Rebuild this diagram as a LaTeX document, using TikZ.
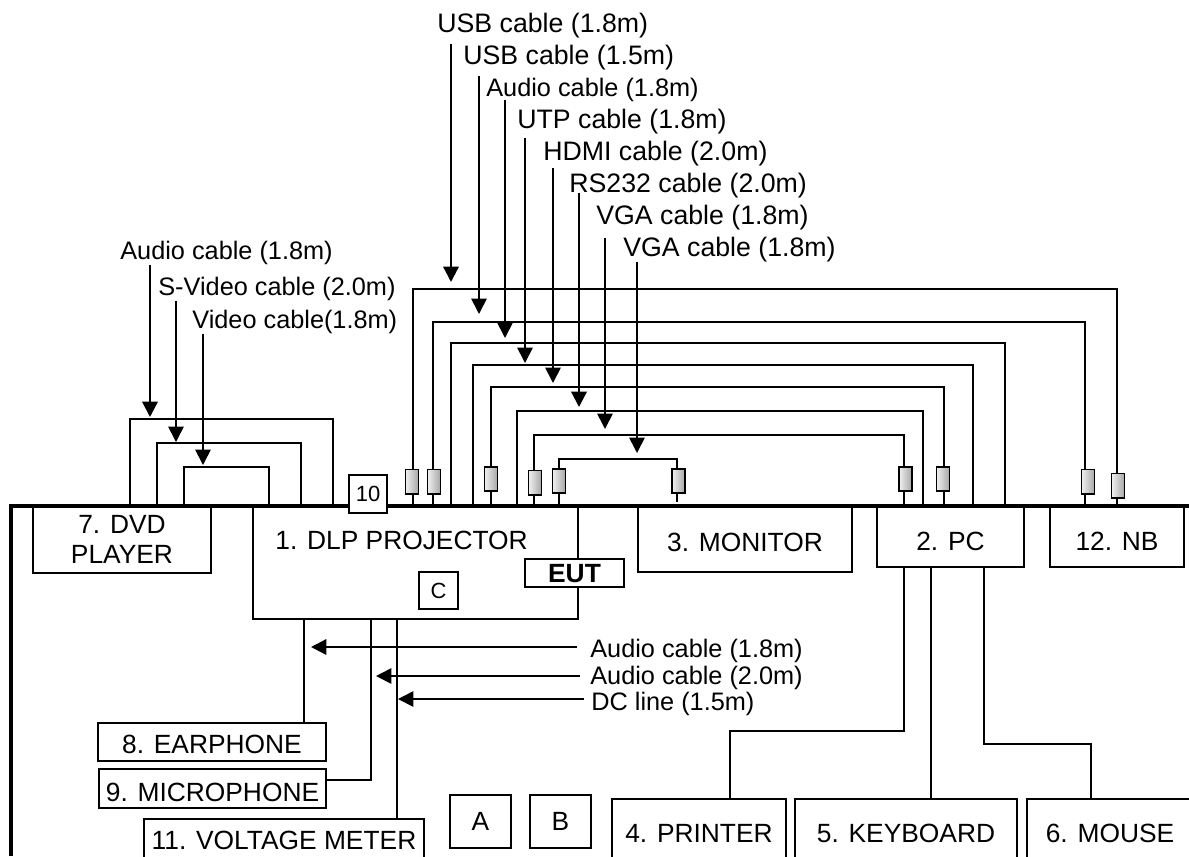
\documentclass[tikz,border=0pt]{standalone}
\usepackage{fontspec}
\setmainfont{Liberation Sans}
\usetikzlibrary{arrows.meta}
\tikzset{
  wire/.style={line width=0.95pt},
  wall/.style={line width=2.2pt},
  feed/.style={line width=0.95pt,-{Triangle[width=8.8pt,length=8.8pt]}},
  feedbold/.style={feed,line width=1.3pt},
  cablelabel/.style={anchor=base west,inner sep=0pt,font=\fontsize{14.4}{17}\selectfont},
  caplabel/.style={cablelabel,font=\fontsize{15.2}{17}\selectfont},
  devbox/.style={draw,fill=white,line width=0.95pt,inner sep=0pt,font=\fontsize{15}{17}\selectfont},
  capsbox/.style={devbox,text height=10.7pt,text depth=0pt},
  smallbox/.style={devbox,font=\fontsize{12.5}{14}\selectfont,minimum width=22pt},
  filter/.style={draw,line width=1pt,left color=gray!12,right color=gray!70,minimum width=7.4pt,minimum height=13.8pt,inner sep=0pt}
}
\begin{document}
\begin{tikzpicture}[x=0.02cm,y=-0.02cm]
  \useasboundingbox (0,0) rectangle (1189,856);
  \clip (0,0) rectangle (1189,856);
  % cables over the table
  \coordinate (usbAL) at (413,506);   \coordinate (usbAR) at (1117,506);
  \coordinate (usbBL) at (433,506);   \coordinate (usbBR) at (1085,506);
  \coordinate (audioL) at (451,506);  \coordinate (audioR) at (1005,506);
  \coordinate (utpL) at (473,506);    \coordinate (utpR) at (973,506);
  \coordinate (hdmiL) at (491,506);   \coordinate (hdmiR) at (944,506);
  \coordinate (rsL) at (517,506);     \coordinate (rsR) at (923,506);
  \coordinate (vgaAL) at (534,506);   \coordinate (vgaAR) at (904,506);
  \coordinate (vgaBL) at (559,506);   \coordinate (vgaBR) at (677,502);
  \draw[wire] (usbAL) -- ++(0,-217) -| (usbAR);
  \draw[wire] (usbBL) -- ++(0,-184) -| (usbBR);
  \draw[wire] (audioL) -- ++(0,-163) -| (audioR);
  \draw[wire,line width=1.1pt] (utpL) -- ++(0,-141) -| (utpR);
  \draw[wire] (hdmiL) -- ++(0,-119) -| (hdmiR);
  \draw[wire] (rsL) -- ++(0,-95) -| (rsR);
  \draw[wire] (vgaAL) -- ++(0,-71) -| (vgaAR);
  \draw[wire] (vgaBL) -- ++(0,-47) -| (vgaBR);
  \coordinate (dvdAL) at (130,506);   \coordinate (dvdAR) at (333,506);
  \coordinate (dvdBL) at (157,506);   \coordinate (dvdBR) at (301,506);
  \coordinate (dvdCL) at (184,506);   \coordinate (dvdCR) at (269,506);
  \draw[wire] (dvdAL) -- ++(0,-87) -| (dvdAR);
  \draw[wire] (dvdBL) -- ++(0,-63) -| (dvdBR);
  \draw[wire] (dvdCL) -- ++(0,-39) -| (dvdCR);
  % filters on the cables
  \node[filter] (filterA) at (412,481.5) {};
  \node[filter] (filterB) at (434,481.5) {};
  \node[filter] (filterC) at (491,479) {};
  \node[filter] (filterD) at (535,482.5) {};
  \node[filter] (filterE) at (559,481) {};
  \node[filter] (filterF) at (678.5,481) {};
  \node[filter] (filterG) at (905.5,479) {};
  \node[filter] (filterH) at (943,479) {};
  \node[filter] (filterI) at (1088,481.5) {};
  \node[filter] (filterJ) at (1118,485.5) {};
  % devices
  \node[devbox,minimum width=178*0.569pt,minimum height=67*0.569pt,align=center] (dvd) at (122,539.5) {7. DVD\\PLAYER};
  \node[devbox,minimum width=325*0.569pt,minimum height=113*0.569pt] (proj) at (415.5,562.5) {};
  \node[cablelabel,font=\fontsize{15}{17}\selectfont] (projText) at (275,549) {1. DLP PROJECTOR};
  \node[smallbox,minimum width=39*0.569pt,minimum height=37*0.569pt] (boxC) at (438.5,590.5) {C};
  \node[capsbox,minimum width=99*0.569pt,minimum height=28*0.569pt,font=\fontsize{15}{17}\selectfont\bfseries] (eut) at (574.5,573) {EUT};
  \node[capsbox,text height=14pt,minimum width=214*0.569pt,minimum height=66*0.569pt] (monitor) at (745,539) {3. MONITOR};
  \node[capsbox,text height=16.4pt,minimum width=147*0.569pt,minimum height=61*0.569pt] (pc) at (950.5,536.5) {2. PC};
  \node[capsbox,text height=16.4pt,minimum width=134*0.569pt,minimum height=61*0.569pt] (nb) at (1117,536.5) {12. NB};
  \node[capsbox,text height=13pt,minimum width=228*0.569pt,minimum height=38*0.569pt] (earphone) at (212,742) {8. EARPHONE};
  \node[capsbox,text height=14.7pt,minimum width=227*0.569pt,minimum height=39*0.569pt] (microphone) at (212.5,788.5) {9. MICROPHONE};
  \node[capsbox,minimum width=280*0.569pt,minimum height=42*0.569pt] (meter) at (284,840) {11. VOLTAGE METER};
  \node[capsbox,minimum width=61*0.569pt,minimum height=53*0.569pt] (boxA) at (480.5,821.5) {A};
  \node[capsbox,minimum width=61*0.569pt,minimum height=53*0.569pt] (boxB) at (560.5,821.5) {B};
  \node[capsbox,minimum width=173.5*0.569pt,minimum height=68*0.569pt] (printer) at (699,833) {4. PRINTER};
  \node[capsbox,minimum width=221.5*0.569pt,minimum height=68*0.569pt] (keyboard) at (906,833) {5. KEYBOARD};
  \node[capsbox,minimum width=166*0.569pt,minimum height=68*0.569pt] (mouse) at (1110,833) {6. MOUSE};
  % table edge and wall
  \coordinate (wallEnd) at (11,856);
  \coordinate (tableEnd) at (1189,506);
  \draw[wall] (wallEnd) |- (tableEnd);
  \node[smallbox,minimum width=38*0.569pt,minimum height=38*0.569pt] (boxTen) at (368,494) {10};
  % cables under the table
  \coordinate (earTap) at (304,723);
  \coordinate (micTap) at (371,780);
  \coordinate (meterTap) at (397,819);
  \draw[wire] (proj.south -| earTap) -- (earTap);
  \draw[wire] (proj.south -| micTap) |- (microphone.east |- micTap);
  \draw[wire] (proj.south -| meterTap) -- (meterTap);
  \coordinate (printerTap) at (730,731);
  \coordinate (keyboardTap) at (931,799);
  \coordinate (mouseTap) at (1091,744);
  \draw[wire] (pc.south -| 904,0) |- (printerTap) -- (printer.north -| printerTap);
  \draw[wire] (pc.south -| keyboardTap) -- (keyboardTap);
  \draw[wire] (pc.south -| 984,0) |- (mouseTap) -- (mouse.north -| mouseTap);
  % labels and their arrows
  \node[caplabel] (lblUsbA) at (437,32) {USB cable (1.8m)};
  \node[caplabel] (lblUsbB) at (463,64) {USB cable (1.5m)};
  \node[cablelabel] (lblAudio) at (486,96) {Audio cable (1.8m)};
  \node[caplabel] (lblUtp) at (517,128) {UTP cable (1.8m)};
  \node[caplabel] (lblHdmi) at (543,160) {HDMI cable (2.0m)};
  \node[caplabel] (lblRs) at (569,192) {RS232 cable (2.0m)};
  \node[caplabel] (lblVgaA) at (596,224) {VGA cable (1.8m)};
  \node[caplabel] (lblVgaB) at (623,256) {VGA cable (1.8m)};
  \coordinate (tipUsbA) at (451,282);
  \coordinate (tipUsbB) at (479,314);
  \coordinate (tipAudio) at (505,338);
  \coordinate (tipUtp) at (525,363);
  \coordinate (tipHdmi) at (553,383);
  \coordinate (tipRs) at (579,407);
  \coordinate (tipVgaA) at (605,429);
  \coordinate (tipVgaB) at (637,453);
  \draw[feedbold,shorten <=3.4pt] (lblUsbA.south -| tipUsbA) -- (tipUsbA);
  \draw[feed,shorten <=3.4pt] (lblUsbB.south -| tipUsbB) -- (tipUsbB);
  \draw[feed,shorten <=-1pt] (lblAudio.south -| tipAudio) -- (tipAudio);
  \draw[feed,shorten <=2.3pt] (lblUtp.south -| tipUtp) -- (tipUtp);
  \draw[feed,shorten <=1pt] (lblHdmi.south -| tipHdmi) -- (tipHdmi);
  \draw[feedbold,shorten <=-3pt] (lblRs.south -| tipRs) -- (tipRs);
  \draw[feed,shorten <=4.5pt] (lblVgaA.south -| tipVgaA) -- (tipVgaA);
  \draw[feed] (lblVgaB.south -| tipVgaB) -- (tipVgaB);
  \node[cablelabel] (lblDvdA) at (120,259) {Audio cable (1.8m)};
  \node[cablelabel] (lblDvdB) at (158,295) {S-Video cable (2.0m)};
  \node[cablelabel] (lblDvdC) at (192,328) {Video cable(1.8m)};
  \coordinate (tipDvdA) at (150,417);
  \coordinate (tipDvdB) at (176,442);
  \coordinate (tipDvdC) at (203,465);
  \draw[feedbold] (lblDvdA.south -| tipDvdA) -- (tipDvdA);
  \draw[feed] (lblDvdB.south -| tipDvdB) -- (tipDvdB);
  \draw[feed] (lblDvdC.south -| tipDvdC) -- (tipDvdC);
  \node[cablelabel] (lblEar) at (590,657) {Audio cable (1.8m)};
  \node[cablelabel] (lblMic) at (590,684) {Audio cable (2.0m)};
  \node[cablelabel] (lblDc) at (591,710) {DC line (1.5m)};
  \coordinate (tipEar) at (311,647);
  \coordinate (tipMic) at (376,676);
  \coordinate (tipDc) at (398,699);
  \draw[feedbold,shorten <=7.4pt] (lblEar.west |- tipEar) -- (tipEar);
  \draw[feed,shorten <=5.7pt] (lblMic.west |- tipMic) -- (tipMic);
  \draw[feed,shorten <=4pt] (lblDc.west |- tipDc) -- (tipDc);
\end{tikzpicture}
\end{document}
